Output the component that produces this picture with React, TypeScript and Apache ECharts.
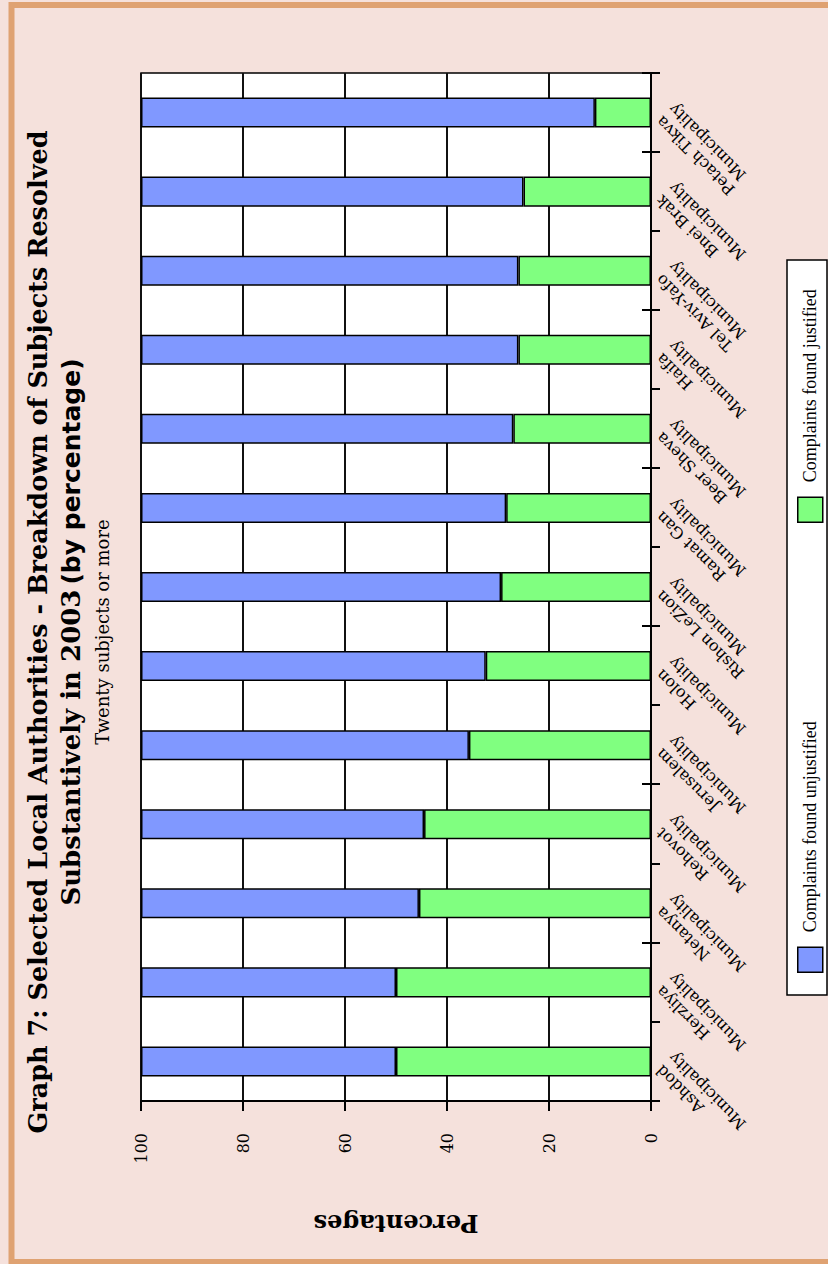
import React, { useEffect, useRef } from 'react';
import * as echarts from 'echarts';

const categories = ['Ashdod', 'Herzliya', 'Netanya', 'Rehovot', 'Jerusalem', 'Holon', 'Rishon LeZion', 'Ramat Gan', 'Beer Sheva', 'Haifa', 'Tel Aviv-Yafo', 'Bnei Brak', 'Petach Tikva'];
const justified = [50, 50, 45.5, 44.5, 35.7, 32.4, 29.4, 28.4, 27, 26, 26, 25, 11];
const unjustified = [50, 50, 54.5, 55.5, 64.3, 67.6, 70.6, 71.6, 73, 74, 74, 75, 89];
const valueTicks = [0, 20, 40, 60, 80, 100];
const seriesNames = ['Complaints found justified', 'Complaints found unjustified'];

const SERIF = '"DejaVu Serif", "Liberation Serif", serif';

export default function App() {
  const ref = useRef<HTMLDivElement>(null);
  useEffect(() => {
    const chart = echarts.init(ref.current!, null, { renderer: 'svg' });
    const legendBase = {
      itemWidth: 25,
      itemHeight: 25,
      padding: 0,
      icon: 'rect',
      selectedMode: false,
      z: 10,
      itemStyle: { borderColor: '#000', borderWidth: 1.5 },
      textStyle: { fontFamily: '"Liberation Serif", serif', fontSize: 18, color: '#000', padding: [0, 0, 0, 10] },
    };
    chart.setOption({
      animation: false,
      backgroundColor: '#f5e1dc',
      title: [
        {
          text: 'Graph 7: Selected Local Authorities - Breakdown of Subjects Resolved',
          left: 'center', top: 25, padding: 0,
          textStyle: { fontFamily: SERIF, fontSize: 25.5, fontWeight: 'bold', color: '#000' },
        },
        {
          text: '{b|Substantively in 2003} {n|(by percentage)}',
          left: 'center', top: 58, padding: 0,
          textStyle: {
            rich: {
              b: { fontFamily: SERIF, fontSize: 26, fontWeight: 'bold', color: '#000' },
              n: { fontFamily: '"DejaVu Sans", sans-serif', fontSize: 25, color: '#000' },
            },
          },
        },
        {
          text: 'Twenty subjects or more',
          left: 'center', top: 93, padding: 0,
          textStyle: { fontFamily: SERIF, fontSize: 18, fontWeight: 'normal', color: '#000' },
        },
      ],
      legend: [
        { ...legendBase, data: [seriesNames[1]], left: 291, top: 797 },
        { ...legendBase, data: [seriesNames[0]], left: 741, top: 797 },
      ],
      graphic: [
        { type: 'rect', silent: true, z: -10, shape: { x: 2, y: 11.5, width: 1257, height: 840 }, style: { fill: 'none', stroke: '#dfa272', lineWidth: 6 } },
        { type: 'rect', silent: true, z: 1, shape: { x: 269, y: 787, width: 735, height: 40 }, style: { fill: '#fff', stroke: '#000', lineWidth: 1.5 } },
      ],
      grid: {
        left: 163, right: 73, top: 141, bottom: 177,
        show: true, backgroundColor: '#fff', borderColor: '#000', borderWidth: 1.5,
      },
      xAxis: [
        {
          type: 'category', data: categories, position: 'bottom',
          axisLine: { lineStyle: { color: '#000', width: 2 } },
          axisTick: { show: true, length: 9, lineStyle: { color: '#000', width: 2 } },
          axisLabel: {
            rotate: 45, margin: 14, interval: 0,
            fontFamily: SERIF, fontSize: 16, lineHeight: 18, color: '#000',
            formatter: (v: string) => v + '\nMunicipality',
          },
        },
        {
          type: 'category', data: categories, position: 'bottom',
          axisLine: { show: false },
          axisTick: { show: true, inside: true, length: 9, lineStyle: { color: '#000', width: 2 } },
          axisLabel: { show: false },
        },
      ],
      yAxis: {
        type: 'value',
        min: valueTicks[0], max: valueTicks[valueTicks.length - 1], interval: valueTicks[1] - valueTicks[0],
        name: 'Percentages', nameLocation: 'middle', nameGap: 110, nameRotate: 90,
        nameTextStyle: { fontFamily: SERIF, fontSize: 24, fontWeight: 'bold', color: '#000' },
        axisLine: { show: true, lineStyle: { color: '#000', width: 2 } },
        axisTick: { show: true, length: 10, lineStyle: { color: '#000', width: 2 } },
        axisLabel: { margin: 32, fontFamily: SERIF, fontSize: 16, color: '#000' },
        splitLine: { show: true, lineStyle: { color: '#111', width: 2 } },
      },
      series: [
        {
          name: seriesNames[0], type: 'bar', stack: 'total', data: justified, barWidth: '38%',
          itemStyle: { color: '#80ff80', borderColor: '#000', borderWidth: 1.5 },
        },
        {
          name: seriesNames[1], type: 'bar', stack: 'total', data: unjustified, barWidth: '38%',
          itemStyle: { color: '#8098ff', borderColor: '#000', borderWidth: 1.5 },
        },
      ],
    });
    return () => chart.dispose();
  }, []);
  return (
    <div style={{ position: 'fixed', left: 0, top: 0, width: 828, height: 1264, overflow: 'hidden', background: '#f5e1dc' }}>
      <div
        ref={ref}
        style={{
          position: 'absolute', left: 0, top: 0, width: 1264, height: 828,
          transformOrigin: '0 0', transform: 'translate(0px, 1264px) rotate(-90deg)',
        }}
      />
    </div>
  );
}
